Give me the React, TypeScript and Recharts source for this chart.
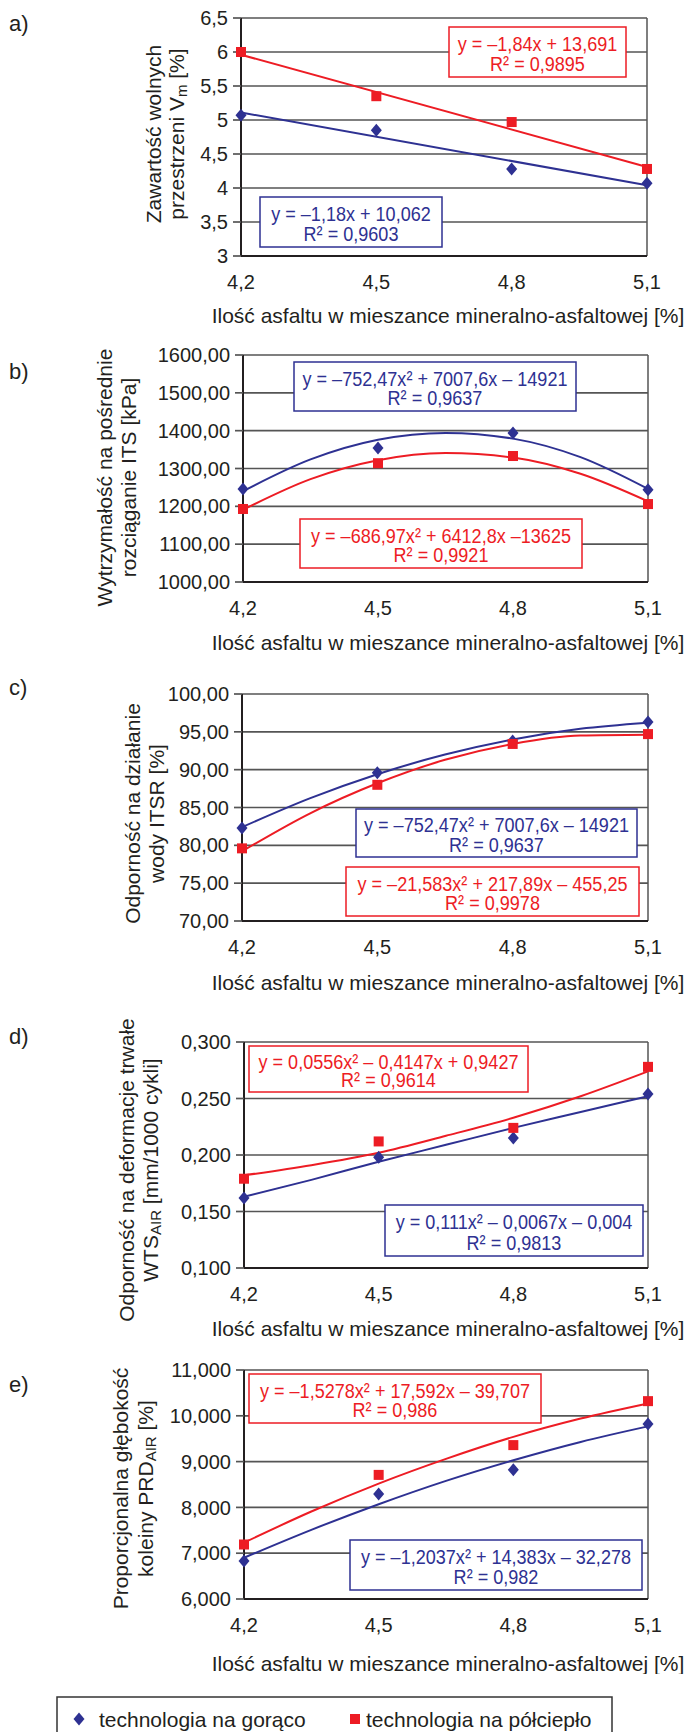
import React from "react";
import {
  ComposedChart,
  Line,
  Scatter,
  XAxis,
  YAxis,
  CartesianGrid,
  ReferenceLine,
} from "recharts";

const BLUE = "#2e3192";
const RED = "#ed1c24";
const INK = "#231f20";
const GRID = "#555555";
const FONT = "'Liberation Sans', Arial, sans-serif";

// zawartość asfaltu [%]
const asphalt = [4.2, 4.5, 4.8, 5.1];
const xTicks = [4.2, 4.5, 4.8, 5.1];
const trendX = [4.2, 4.35, 4.5, 4.65, 4.8, 4.95, 5.1];
const lineX = [4.2, 5.1];

// a) wolne przestrzenie Vm [%]
const vmHot = [5.07, 4.85, 4.28, 4.07];
const vmWarm = [6.0, 5.35, 4.97, 4.28];
const vmHotTrend = [5.11, 4.04];
const vmWarmTrend = [5.96, 4.31];
const vmTicks = [3, 3.5, 4, 4.5, 5, 5.5, 6, 6.5];

// b) ITS [kPa]
const itsHot = [1246, 1354, 1394, 1244];
const itsWarm = [1193, 1314, 1333, 1206];
const itsHotTrend = [1240, 1324, 1376, 1394, 1379, 1330, 1246];
const itsWarmTrend = [1191, 1272, 1322, 1341, 1329, 1286, 1213];
const itsTicks = [1000, 1100, 1200, 1300, 1400, 1500, 1600];

// c) ITSR [%]
const itsrHot = [82.3, 89.6, 93.8, 96.3];
const itsrWarm = [79.6, 88.0, 93.4, 94.7];
const itsrHotTrend = [82.4, 86.2, 89.4, 92.0, 94.0, 95.4, 96.2];
const itsrWarmTrend = [79.2, 84.2, 88.2, 91.3, 93.4, 94.5, 94.6];
const itsrTicks = [70, 75, 80, 85, 90, 95, 100];

// d) WTS AIR [mm/1000 cykli]
const wtsHot = [0.162, 0.198, 0.215, 0.254];
const wtsWarm = [0.179, 0.212, 0.224, 0.278];
const wtsHotTrend = [0.163, 0.178, 0.194, 0.209, 0.224, 0.238, 0.252];
const wtsWarmTrend = [0.182, 0.191, 0.202, 0.217, 0.233, 0.252, 0.274];
const wtsTicks = [0.1, 0.15, 0.2, 0.25, 0.3];

// e) PRD AIR [%]
const prdHot = [6.83, 8.29, 8.82, 9.82];
const prdWarm = [7.19, 8.71, 9.36, 10.32];
const prdHotTrend = [6.9, 7.51, 8.07, 8.58, 9.03, 9.43, 9.77];
const prdWarmTrend = [7.23, 7.91, 8.52, 9.06, 9.54, 9.94, 10.27];
const prdTicks = [6, 7, 8, 9, 10, 11];

const comma = (v: number) => String(v).replace(".", ",");
const fixed = (d: number) => (v: number) => v.toFixed(d).replace(".", ",");
const pts = (xs: number[], ys: number[]) => xs.map((x, i) => ({ x, y: ys[i] }));

const diamond = (p: any) => (
  <path
    d={`M${p.cx},${p.cy - 6.5} L${p.cx + 5.5},${p.cy} L${p.cx},${p.cy + 6.5} L${p.cx - 5.5},${p.cy} Z`}
    fill={BLUE}
  />
);
const square = (p: any) => (
  <rect x={p.cx - 5} y={p.cy - 5} width={10} height={10} fill={RED} />
);

const XTITLE = "Ilość asfaltu w mieszance mineralno-asfaltowej [%]";

const panels = [
  {
    id: "a",
    top: 18, bottom: 256, left: 241, right: 647,
    domain: [3, 6.5], ticks: vmTicks, fmt: comma,
    hot: vmHot, warm: vmWarm, tx: lineX, hotTrend: vmHotTrend, warmTrend: vmWarmTrend,
    curve: "linear",
    titleX: [153, 176], titleDy: -3, xTitleDy: 59,
    title1: <>Zawartość wolnych</>,
    title2: <>przestrzeni V<tspan dy={5} fontSize={15}>m</tspan><tspan dy={-5}> [%]</tspan></>,
  },
  {
    id: "b",
    top: 355, bottom: 582, left: 243, right: 648,
    domain: [1000, 1600], ticks: itsTicks, fmt: fixed(2),
    hot: itsHot, warm: itsWarm, tx: trendX, hotTrend: itsHotTrend, warmTrend: itsWarmTrend,
    curve: "monotone",
    titleX: [104, 128], titleDy: 9, xTitleDy: 60,
    title1: <>Wytrzymałość na pośrednie</>,
    title2: <>rozciąganie ITS [kPa]</>,
  },
  {
    id: "c",
    top: 694, bottom: 921, left: 242, right: 648,
    domain: [70, 100], ticks: itsrTicks, fmt: fixed(2),
    hot: itsrHot, warm: itsrWarm, tx: trendX, hotTrend: itsrHotTrend, warmTrend: itsrWarmTrend,
    curve: "monotone",
    titleX: [132, 156], titleDy: 6, xTitleDy: 61,
    title1: <>Odporność na działanie</>,
    title2: <>wody ITSR [%]</>,
  },
  {
    id: "d",
    top: 1042, bottom: 1268, left: 244, right: 648,
    domain: [0.1, 0.3], ticks: wtsTicks, fmt: fixed(3),
    hot: wtsHot, warm: wtsWarm, tx: trendX, hotTrend: wtsHotTrend, warmTrend: wtsWarmTrend,
    curve: "monotone",
    titleX: [126, 150], titleDy: 15, xTitleDy: 60,
    title1: <>Odporność na deformacje trwałe</>,
    title2: <>WTS<tspan dy={5} fontSize={15}>AIR</tspan><tspan dy={-5}> [mm/1000 cykli]</tspan></>,
  },
  {
    id: "e",
    top: 1370, bottom: 1599, left: 244, right: 648,
    domain: [6, 11], ticks: prdTicks, fmt: fixed(3),
    hot: prdHot, warm: prdWarm, tx: trendX, hotTrend: prdHotTrend, warmTrend: prdWarmTrend,
    curve: "monotone",
    titleX: [120, 145], titleDy: 4, xTitleDy: 64,
    title1: <>Proporcjonalna głębokość</>,
    title2: <>koleiny PRD<tspan dy={5} fontSize={15}>AIR</tspan><tspan dy={-5}> [%]</tspan></>,
  },
];

// equation boxes: [x0, y0, x1, y1], colour, two lines
const equations = [
  { box: [449, 27, 626, 77], color: RED, lines: ["y = –1,84x + 13,691", "R² = 0,9895"] },
  { box: [260, 197, 442, 247], color: BLUE, lines: ["y = –1,18x + 10,062", "R² = 0,9603"] },
  { box: [294, 362, 576, 411], color: BLUE, lines: ["y = –752,47x² + 7007,6x – 14921", "R² = 0,9637"] },
  { box: [300, 519, 582, 568], color: RED, lines: ["y = –686,97x² + 6412,8x –13625", "R² = 0,9921"] },
  { box: [356, 809, 637, 857], color: BLUE, lines: ["y = –752,47x² + 7007,6x – 14921", "R² = 0,9637"] },
  { box: [346, 867, 639, 916], color: RED, lines: ["y = –21,583x² + 217,89x – 455,25", "R² = 0,9978"] },
  { box: [249, 1046, 528, 1092], color: RED, lines: ["y = 0,0556x² – 0,4147x + 0,9427", "R² = 0,9614"] },
  { box: [385, 1205, 643, 1256], color: BLUE, lines: ["y = 0,111x² – 0,0067x – 0,004", "R² = 0,9813"] },
  { box: [249, 1374, 541, 1423], color: RED, lines: ["y = –1,5278x² + 17,592x – 39,707", "R² = 0,986"] },
  { box: [350, 1540, 642, 1590], color: BLUE, lines: ["y = –1,2037x² + 14,383x – 32,278", "R² = 0,982"] },
];

const letters = [
  { t: "a)", y: 23 },
  { t: "b)", y: 371 },
  { t: "c)", y: 687 },
  { t: "d)", y: 1036 },
  { t: "e)", y: 1384 },
];

const PAD = 40;
const AXIS_H = 75;

const Panel = ({ p }: { p: any }) => {
  const plotH = p.bottom - p.top;
  const height = PAD + plotH + AXIS_H;
  const yc = PAD + plotH / 2 + p.titleDy;
  const titleStyle = { fontFamily: FONT, fontSize: 21, fill: INK };
  return (
    <div style={{ position: "absolute", left: 0, top: p.top - PAD }}>
      <ComposedChart
        width={691}
        height={height}
        margin={{ top: PAD, right: 691 - p.right, bottom: 0, left: 0 }}
      >
        <CartesianGrid vertical={false} stroke={GRID} strokeWidth={1.7} />
        <XAxis
          type="number"
          dataKey="x"
          domain={[4.2, 5.1]}
          ticks={xTicks}
          interval={0}
          tickFormatter={comma}
          axisLine={{ stroke: INK, strokeWidth: 2 }}
          tickLine={false}
          tickSize={0}
          tickMargin={19}
          height={AXIS_H}
          tick={{ fill: INK, fontSize: 20, fontFamily: FONT }}
          label={() => (
            <text
              x={448}
              y={PAD + plotH + p.xTitleDy}
              textAnchor="middle"
              dominantBaseline="central"
              style={titleStyle}
            >
              {XTITLE}
            </text>
          )}
        />
        <YAxis
          type="number"
          domain={p.domain}
          ticks={p.ticks}
          interval={0}
          tickFormatter={p.fmt}
          width={p.left}
          axisLine={{ stroke: INK, strokeWidth: 2 }}
          tickLine={{ stroke: GRID, strokeWidth: 1.7 }}
          tickSize={8}
          tickMargin={5}
          tick={{ fill: INK, fontSize: 20, fontFamily: FONT }}
          label={() => (
            <g>
              <text
                x={p.titleX[0]}
                y={yc}
                transform={`rotate(-90 ${p.titleX[0]} ${yc})`}
                textAnchor="middle"
                dominantBaseline="central"
                style={titleStyle}
              >
                {p.title1}
              </text>
              <text
                x={p.titleX[1]}
                y={yc}
                transform={`rotate(-90 ${p.titleX[1]} ${yc})`}
                textAnchor="middle"
                dominantBaseline="central"
                style={titleStyle}
              >
                {p.title2}
              </text>
            </g>
          )}
        />
        <ReferenceLine x={5.1} stroke={GRID} strokeWidth={1.5} />
        <Line
          data={pts(p.tx, p.hotTrend)}
          dataKey="y"
          type={p.curve}
          stroke={BLUE}
          strokeWidth={2}
          dot={false}
          isAnimationActive={false}
        />
        <Line
          data={pts(p.tx, p.warmTrend)}
          dataKey="y"
          type={p.curve}
          stroke={RED}
          strokeWidth={2}
          dot={false}
          isAnimationActive={false}
        />
        <Scatter data={pts(asphalt, p.hot)} dataKey="y" shape={diamond} isAnimationActive={false} />
        <Scatter data={pts(asphalt, p.warm)} dataKey="y" shape={square} isAnimationActive={false} />
      </ComposedChart>
    </div>
  );
};

export default function App() {
  return (
    <div
      style={{
        position: "absolute",
        left: 0,
        top: 0,
        width: 691,
        height: 1732,
        overflow: "hidden",
        background: "#fff",
      }}
    >
      {panels.map((p) => (
        <Panel key={p.id} p={p} />
      ))}
      <svg
        width={691}
        height={1732}
        style={{ position: "absolute", left: 0, top: 0, pointerEvents: "none" }}
      >
        {letters.map((l) => (
          <text key={l.t} x={9} y={l.y} dominantBaseline="central" fontFamily={FONT} fontSize={22} fill={INK}>
            {l.t}
          </text>
        ))}
        {equations.map((e, i) => {
          const [x0, y0, x1, y1] = e.box;
          const cx = (x0 + x1) / 2;
          const h = y1 - y0;
          // narrow lettering of the original: condense horizontally around the box centre
          const squeeze = `translate(${cx} 0) scale(0.86 1) translate(${-cx} 0)`;
          return (
            <g key={i}>
              <rect x={x0} y={y0} width={x1 - x0} height={h} fill="#fff" stroke={e.color} strokeWidth={1.5} />
              <g transform={squeeze}>
                <text x={cx} y={y0 + h * 0.33} textAnchor="middle" dominantBaseline="central" fontFamily={FONT} fontSize={21} fill={e.color}>
                  {e.lines[0]}
                </text>
                <text x={cx} y={y0 + h * 0.73} textAnchor="middle" dominantBaseline="central" fontFamily={FONT} fontSize={21} fill={e.color}>
                  {e.lines[1]}
                </text>
              </g>
            </g>
          );
        })}
        <rect x={57} y={1697} width={555} height={70} fill="#fff" stroke="#333" strokeWidth={1.5} />
        <path d="M79,1712.5 L84.5,1719 L79,1725.5 L73.5,1719 Z" fill={BLUE} />
        <text x={99} y={1719} dominantBaseline="central" fontFamily={FONT} fontSize={21} fill={INK}>
          technologia na gorąco
        </text>
        <rect x={350} y={1714} width={10} height={10} fill={RED} />
        <text x={366} y={1719} dominantBaseline="central" fontFamily={FONT} fontSize={21} fill={INK}>
          technologia na półciepło
        </text>
      </svg>
    </div>
  );
}
